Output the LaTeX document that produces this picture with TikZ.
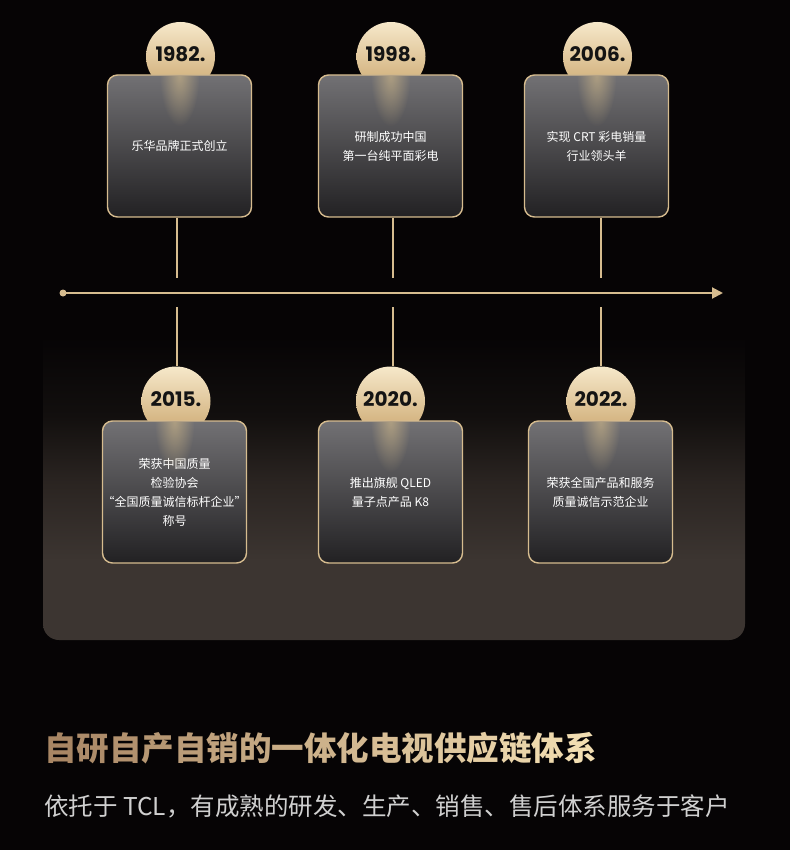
\documentclass[tikz,border=0pt]{standalone}
\usepackage{fontspec}
\usetikzlibrary{arrows.meta,fadings}
\newfontfamily\cjk{Noto Sans CJK SC}
\newfontfamily\yearfont{Poppins}
\definecolor{bg}{RGB}{6,4,5}
\definecolor{gold}{RGB}{214,188,143}
\definecolor{balltop}{RGB}{246,232,202}
\definecolor{ballbot}{RGB}{204,168,112}
\definecolor{cardtop}{RGB}{114,113,116}
\definecolor{cardmid}{RGB}{70,69,72}
\definecolor{cardbot}{RGB}{34,33,35}
\definecolor{glowc}{RGB}{215,190,140}
\definecolor{panelbot}{RGB}{60,53,49}
\definecolor{panelmid}{RGB}{42,36,33}
\definecolor{paneldark}{RGB}{18,15,14}
\definecolor{titleL}{RGB}{168,134,100}
\definecolor{titleR}{RGB}{242,222,178}
\definecolor{subgray}{RGB}{208,208,208}
\pgfdeclareverticalshading{panelshade}{100bp}{color(0bp)=(panelbot); color(25bp)=(panelbot); color(31bp)=(panelbot); color(37bp)=(panelmid); color(42bp)=(paneldark); color(48bp)=(bg); color(100bp)=(bg)}
\tikzfading[name=glowfade, inner color=transparent!40, outer color=transparent!100]
\newcommand\openq{\makebox[5pt][r]{“}}
\newcommand\closeq{\makebox[5pt][l]{”}}

\begin{document}
\begin{tikzpicture}[x=1pt, y=-1pt,
  card/.style={rounded corners=10pt, minimum width=144pt, minimum height=142pt,
    draw=gold, line width=1.4pt, top color=cardtop, middle color=cardmid,
    bottom color=cardbot, text=white, align=center, inner sep=2pt,
    font=\cjk\fontsize{12}{19}\selectfont},
  yearball/.style={circle, minimum size=69pt, inner sep=0pt, top color=balltop,
    bottom color=ballbot, text=black!92,
    font=\yearfont\bfseries\fontsize{20}{20}\selectfont},
  stem/.style={gold, line width=1.2pt}]
  %% 1. Background and panel
  \useasboundingbox (0,0) rectangle (790,850);
  \fill[bg] (0,0) rectangle (790,850);
  \shade[shading=panelshade, rounded corners=16pt] (43,-20) rectangle (745,640);
  %% 2. Year balls
  \node[yearball] (b1) at (180.5,56.5) {\raisebox{4pt}{1982.}};
  \node[yearball] (b2) at (391,56.5)   {\raisebox{4pt}{1998.}};
  \node[yearball] (b3) at (597.5,56.5) {\raisebox{4pt}{2006.}};
  \node[yearball] (b4) at (176,401)    {\raisebox{4pt}{2015.}};
  \node[yearball] (b5) at (390.5,401)  {\raisebox{4pt}{2020.}};
  \node[yearball] (b6) at (601,401)    {\raisebox{4pt}{2022.}};
  %% 3. Cards
  \node[card] (c1) at (179.5,146) {乐华品牌正式创立};
  \node[card] (c2) at (390.5,146) {研制成功中国\\第一台纯平面彩电};
  \node[card] (c3) at (596.5,146) {实现 CRT 彩电销量\\行业领头羊};
  \node[card] (c4) at (174.5,492) {荣获中国质量\\检验协会\\\openq 全国质量诚信标杆企业\closeq\\称号};
  \node[card] (c5) at (390.5,492) {推出旗舰 QLED\\量子点产品 K8};
  \node[card] (c6) at (600.5,492) {荣获全国产品和服务\\质量诚信示范企业};
  \foreach \c in {c1,c2,c3,c4,c5,c6}{
    \begin{scope}
      \clip ([yshift=-2pt]\c.north west) rectangle (\c.south east);
      \fill[glowc, path fading=glowfade] (\c.north) ellipse (20pt and 52pt);
    \end{scope}}
  %% 4. Timeline and stems
  \coordinate (t0) at (63,293);
  \coordinate (t1) at (723,293);
  \draw[gold, line width=2pt, -{Triangle[length=11pt,width=11pt]}] (t0) -- (t1);
  \fill[gold] (t0) circle (3.5pt);
  \coordinate (s1) at (177,278);
  \coordinate (s2) at (393,278);
  \coordinate (s3) at (601,278);
  \coordinate (r1) at (177,307);
  \coordinate (r2) at (393,307);
  \coordinate (r3) at (601,307);
  \draw[stem] (c1.south -| s1) -- (s1);
  \draw[stem] (c2.south -| s2) -- (s2);
  \draw[stem] (c3.south -| s3) -- (s3);
  \draw[stem] (r1) -- (r1 |- b4.north);
  \draw[stem] (r2) -- (r2 |- b5.north);
  \draw[stem] (r3) -- (r3 |- b6.north);
  %% 5. Title and subtitle
  \node[anchor=west, inner sep=0pt, font=\cjk\bfseries\fontsize{32.5}{33}\selectfont] (title) at (44,748)
    {\foreach \ch [count=\i] in {自,研,自,产,自,销,的,一,体,化,电,视,供,应,链,体,系}{\pgfmathtruncatemacro\p{100-(\i-1)*100/16}\textcolor{titleL!\p!titleR}{\ch}}};
  \node[anchor=west, inner sep=0pt, text=subgray, font=\cjk\fontsize{24.5}{25}\selectfont] (sub) at (44,806)
    {依托于 TCL，有成熟的研发、生产、销售、售后体系服务于客户};
\end{tikzpicture}
\end{document}
